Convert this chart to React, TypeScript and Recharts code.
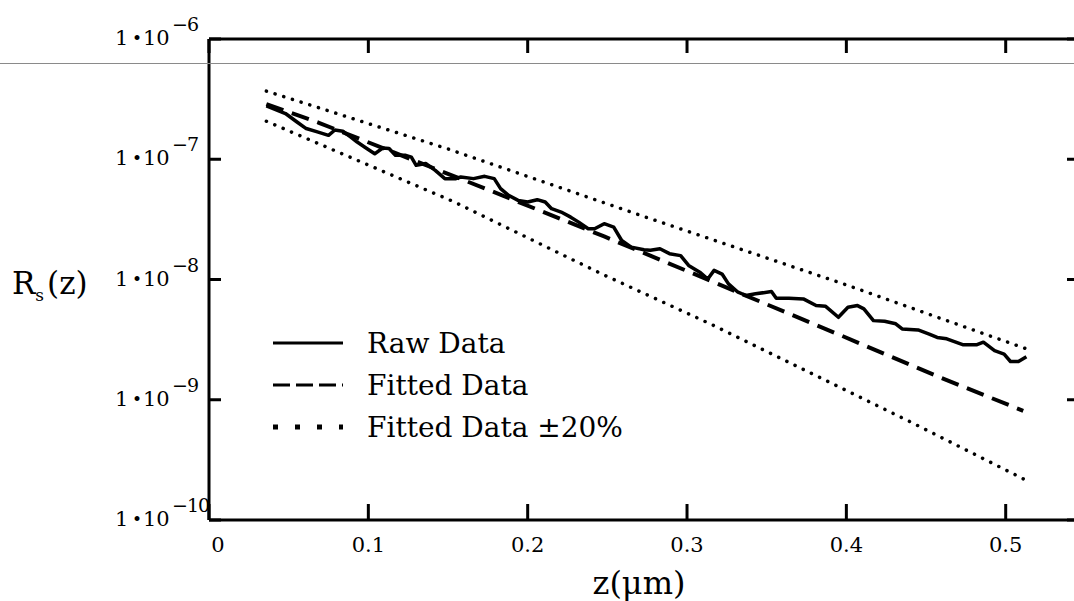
import React from "react";
import { LineChart, Line, XAxis, YAxis, Legend } from "recharts";

const SERIF = '"DejaVu Serif", serif';

// raw measurement, z in µm
const rawZ = [
  0.036, 0.048, 0.055, 0.061, 0.068, 0.075, 0.079, 0.084, 0.089, 0.093,
  0.099, 0.104, 0.109, 0.113, 0.117, 0.123, 0.127, 0.13, 0.136, 0.142,
  0.148, 0.155, 0.158, 0.166, 0.173, 0.179, 0.183, 0.188, 0.194, 0.2,
  0.206, 0.211, 0.215, 0.221, 0.227, 0.232, 0.238, 0.242, 0.248, 0.254,
  0.259, 0.265, 0.273, 0.277, 0.283, 0.289, 0.296, 0.301, 0.308, 0.313,
  0.317, 0.322, 0.326, 0.332, 0.337, 0.343, 0.353, 0.356, 0.364, 0.373,
  0.381, 0.387, 0.395, 0.401, 0.407, 0.411, 0.417, 0.424, 0.431, 0.435,
  0.445, 0.452, 0.457, 0.463, 0.473, 0.482, 0.486, 0.493, 0.499, 0.503,
  0.508, 0.513,
];
const rawR = [
  2.78e-7, 2.4e-7, 2.05e-7, 1.8e-7, 1.69e-7, 1.58e-7, 1.75e-7, 1.71e-7, 1.53e-7, 1.39e-7,
  1.23e-7, 1.11e-7, 1.24e-7, 1.23e-7, 1.08e-7, 1.08e-7, 1.04e-7, 8.91e-8, 9.21e-8, 8.09e-8,
  6.9e-8, 6.9e-8, 7.12e-8, 6.9e-8, 7.21e-8, 6.9e-8, 5.7e-8, 5.01e-8, 4.55e-8, 4.41e-8,
  4.61e-8, 4.41e-8, 3.88e-8, 3.64e-8, 3.3e-8, 3.0e-8, 2.64e-8, 2.64e-8, 2.91e-8, 2.73e-8,
  2.11e-8, 1.86e-8, 1.77e-8, 1.75e-8, 1.8e-8, 1.64e-8, 1.58e-8, 1.31e-8, 1.15e-8, 1.01e-8,
  1.19e-8, 1.11e-8, 9.2e-9, 7.84e-9, 7.36e-9, 7.6e-9, 7.94e-9, 6.98e-9, 6.98e-9, 6.9e-9,
  6.07e-9, 5.98e-9, 4.85e-9, 5.87e-9, 6.07e-9, 5.7e-9, 4.55e-9, 4.49e-9, 4.28e-9, 3.88e-9,
  3.81e-9, 3.52e-9, 3.3e-9, 3.21e-9, 2.87e-9, 2.87e-9, 3.01e-9, 2.56e-9, 2.4e-9, 2.08e-9,
  2.08e-9, 2.28e-9,
];

const fitZ = [0.036, 0.069, 0.175, 0.248, 0.287, 0.397, 0.459, 0.511];
const fitR = [2.87e-7, 2.01e-7, 5.59e-8, 2.28e-8, 1.39e-8, 3.41e-9, 1.53e-9, 8.09e-10];

const upZ = [0.036, 0.149, 0.271, 0.398, 0.513];
const upR = [3.69e-7, 1.23e-7, 3.41e-8, 9.21e-9, 2.65e-9];

const loZ = [0.036, 0.154, 0.246, 0.316, 0.443, 0.511];
const loR = [2.07e-7, 4.41e-8, 1.12e-8, 4.19e-9, 6.27e-10, 2.2e-10];

const xTicks = [0, 0.1, 0.2, 0.3, 0.4, 0.5];
const yTicks = [1e-10, 1e-9, 1e-8, 1e-7, 1e-6];

const legendNames = ["Raw Data", "Fitted Data", "Fitted Data ±20%"];

const zip = (zs: number[], rs: number[]) => zs.map((z, i) => ({ z, r: rs[i] }));

const sampleStyle: Record<string, { dash?: string; width: number }> = {
  "Raw Data": { width: 3 },
  "Fitted Data": { dash: "17 6", width: 3 },
  "Fitted Data ±20%": { dash: "5 17", width: 5 },
};

function BottomTick(p: any) {
  const { x, y, payload } = p;
  const v = payload.value;
  return (
    <g>
      <line x1={x} x2={x} y1={y} y2={y - 16} stroke="#000" strokeWidth={3} />
      <text x={v === 0 ? x + 9 : x} y={y + 32} textAnchor="middle" fontFamily={SERIF} fontSize={21} fill="#000">
        {String(v)}
      </text>
    </g>
  );
}

function TopTick(p: any) {
  const { x, y } = p;
  return <line x1={x} x2={x} y1={y} y2={y + 14} stroke="#000" strokeWidth={3} />;
}

function LeftTick(p: any) {
  const { x, y, payload } = p;
  const e = Math.round(Math.log10(payload.value));
  return (
    <g fontFamily={SERIF} fill="#000">
      <line x1={x} x2={x + 12} y1={y} y2={y} stroke="#000" strokeWidth={3} />
      <text x={x - 94} y={y + 6} fontSize={21}>1</text>
      <text x={x - 77} y={y + 5} fontSize={17}>•</text>
      <text x={x - 66} y={y + 6} fontSize={21}>10</text>
      <text x={x - 37} y={y - 8} fontSize={19} letterSpacing={-1}>{"\u2212" + Math.abs(e)}</text>
    </g>
  );
}

function RightTick(p: any) {
  const { x, y } = p;
  return <line x1={x} x2={x - 12} y1={y} y2={y} stroke="#000" strokeWidth={3} />;
}

function LegendBox(props: any) {
  const shown = (props.payload || []).filter((d: any) => d.type !== "none");
  const items = legendNames.filter((n) => shown.some((d: any) => d.value === n));
  return (
    <div style={{ fontFamily: SERIF, fontSize: 28, color: "#000" }}>
      {items.map((name) => {
        const s = sampleStyle[name];
        return (
          <div key={name} style={{ display: "flex", alignItems: "center", height: 42 }}>
            <svg width={96} height={42}>
              <line x1={2} x2={72} y1={21} y2={21} stroke="#000" strokeWidth={s.width} strokeDasharray={s.dash} />
            </svg>
            <span>{name}</span>
          </div>
        );
      })}
    </div>
  );
}

export default function App() {
  return (
    <div style={{ position: "absolute", left: 0, top: 0, width: 1074, height: 601, overflow: "hidden", background: "#fff" }}>
      <LineChart width={1100} height={601} margin={{ top: 0, right: 0, bottom: 0, left: 0 }}>
        <XAxis
          dataKey="z"
          type="number"
          domain={[0, 0.546]}
          ticks={xTicks}
          interval={0}
          allowDataOverflow
          height={81}
          axisLine={{ stroke: "#000", strokeWidth: 3 }}
          tickLine={false}
          tickSize={0}
          tickMargin={0}
          tick={BottomTick}
          label={(lp: any) => {
            const vb = lp.viewBox || { x: 209, y: 520, width: 870 };
            return (
              <text x={vb.x + vb.width / 2 - 5} y={vb.y + 74} textAnchor="middle" fontFamily={SERIF} fontSize={32} fill="#000">
                z(μm)
              </text>
            );
          }}
        />
        <XAxis
          xAxisId="top"
          orientation="top"
          dataKey="z"
          type="number"
          domain={[0, 0.546]}
          ticks={xTicks}
          interval={0}
          allowDataOverflow
          height={39}
          axisLine={{ stroke: "#000", strokeWidth: 3 }}
          tickLine={false}
          tickSize={0}
          tickMargin={0}
          tick={TopTick}
        />
        <YAxis
          scale="log"
          type="number"
          domain={[1e-10, 1e-6]}
          ticks={yTicks}
          interval={0}
          allowDataOverflow
          width={209}
          axisLine={{ stroke: "#000", strokeWidth: 3 }}
          tickLine={false}
          tickSize={0}
          tickMargin={0}
          tick={LeftTick}
          label={(lp: any) => {
            const vb = lp.viewBox || { x: 0, y: 39 };
            return (
              <text x={vb.x + 12} y={vb.y + 255} fontFamily={SERIF} fontSize={31} fill="#000">
                R<tspan fontSize={17} dy={7}>s</tspan>
                <tspan dy={-7} dx={3}>(z)</tspan>
              </text>
            );
          }}
        />
        <YAxis
          yAxisId="right"
          orientation="right"
          scale="log"
          type="number"
          domain={[1e-10, 1e-6]}
          ticks={yTicks}
          interval={0}
          allowDataOverflow
          width={21}
          axisLine={{ stroke: "#000", strokeWidth: 3 }}
          tickLine={false}
          tickSize={0}
          tickMargin={0}
          tick={RightTick}
        />
        <Legend
          layout="vertical"
          align="center"
          verticalAlign="middle"
          wrapperStyle={{ left: 271, top: 322, width: 420 }}
          content={LegendBox}
        />
        <Line
          name="Raw Data"
          data={zip(rawZ, rawR)}
          dataKey="r"
          type="linear"
          stroke="#000"
          strokeWidth={3.5}
          strokeLinejoin="round"
          dot={false}
          isAnimationActive={false}
        />
        <Line
          name="Fitted Data"
          data={zip(fitZ, fitR)}
          dataKey="r"
          type="linear"
          stroke="#000"
          strokeWidth={4}
          strokeDasharray="18 9"
          dot={false}
          isAnimationActive={false}
        />
        <Line
          name="Fitted Data ±20%"
          data={zip(upZ, upR)}
          dataKey="r"
          type="linear"
          stroke="#000"
          strokeWidth={3.5}
          strokeDasharray="0.1 9"
          strokeLinecap="round"
          dot={false}
          isAnimationActive={false}
        />
        <Line
          name="lower"
          legendType="none"
          data={zip(loZ, loR)}
          dataKey="r"
          type="linear"
          stroke="#000"
          strokeWidth={3.5}
          strokeDasharray="0.1 9"
          strokeLinecap="round"
          dot={false}
          isAnimationActive={false}
        />
      </LineChart>
      <div style={{ position: "absolute", left: 0, top: 63, width: 1074, height: 1, background: "#8a8a8a" }} />
    </div>
  );
}
